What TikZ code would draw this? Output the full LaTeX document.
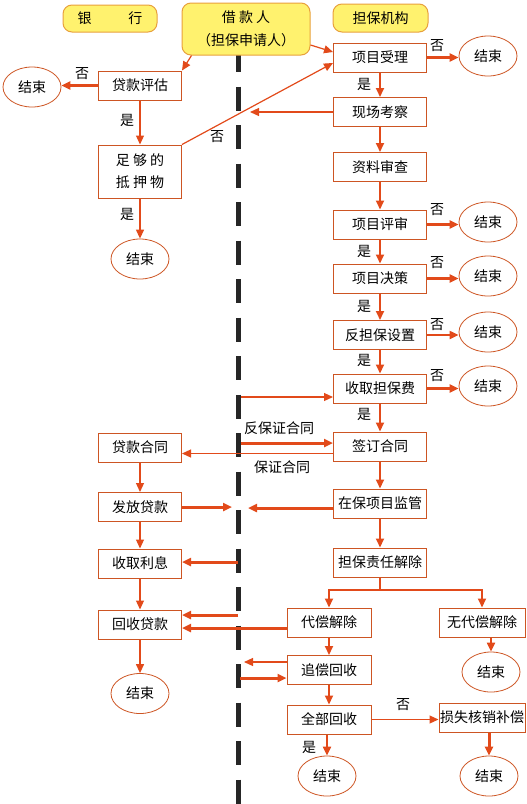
\documentclass[tikz,border=0pt]{standalone}
\usepackage{fontspec}
\setmainfont{Noto Sans CJK SC}
\usetikzlibrary{arrows.meta,shapes.geometric}

\definecolor{linered}{RGB}{226,74,26}
\definecolor{boxred}{RGB}{205,85,35}
\definecolor{hdyellow}{RGB}{255,242,110}
\definecolor{hdorange}{RGB}{232,160,60}

\tikzset{
  txt/.style={font=\fontsize{14}{16}\selectfont},
  box/.style={txt, draw=boxred, line width=1pt, minimum width=93pt, minimum height=29pt, inner sep=0pt},
  lbox/.style={box, minimum width=83pt},
  head/.style={txt, draw=hdorange, fill=hdyellow, rounded corners=9pt, line width=1pt, inner sep=0pt},
  stop/.style={txt, ellipse, draw=boxred, line width=0.8pt, minimum width=58pt, minimum height=40pt, inner sep=0pt},
  arr/.style={draw=linered, line width=1.2pt, -{Triangle[length=9pt,width=8pt]}},
  marr/.style={arr, line width=2pt},
  tarr/.style={arr, line width=3pt},
  lab/.style={txt, inner sep=0pt}
}

\begin{document}
\begin{tikzpicture}[x=1pt,y=-1pt]
    \useasboundingbox (0,0) rectangle (527,804);

    % 中间虚线
    \draw[line width=5pt, black!85, dash pattern=on 24pt off 14.5pt] (238,48) -- (238,804);

    % 表头
    \node[head, minimum width=94pt, minimum height=27pt] (bank) at (110,18.5) {银\hspace{37pt}行};
    \node[head, minimum width=128pt, minimum height=52pt, align=center, font=\fontsize{14}{23}\selectfont] (borrower) at (246,29) {借\ 款\ 人\\（担保申请人）};
    \node[head, minimum width=95pt, minimum height=28pt] (guarantor) at (380.5,18) {担保机构};

    % 担保机构一列
    \node[box] (accept) at (380,57.5) {项目受理};
    \node[box] (survey) at (380,112) {现场考察};
    \node[box] (check) at (380,167) {资料审查};
    \node[box] (review) at (380,224.5) {项目评审};
    \node[box] (decide) at (380,278.5) {项目决策};
    \node[box] (counter) at (380,335) {反担保设置};
    \node[box] (fee) at (380,388.5) {收取担保费};
    \node[box] (sign) at (380,446.5) {签订合同};
    \node[box] (monitor) at (380,503.5) {在保项目监管};
    \node[box] (release) at (380,562.5) {担保责任解除};
    \node[box, minimum width=84pt] (compensate) at (329,622.5) {代偿解除};
    \node[box, minimum width=86pt] (nocomp) at (482,622.5) {无代偿解除};
    \node[box, minimum width=84pt] (recover) at (329,670) {追偿回收};
    \node[box, minimum width=84pt] (fullrec) at (329,719.5) {全部回收};
    \node[box, minimum width=86pt] (writeoff) at (482,717.5) {损失核销补偿};

    \node[stop] (end1) at (488,56) {结束};
    \node[stop] (end2) at (488,222) {结束};
    \node[stop] (end3) at (488,276) {结束};
    \node[stop] (end4) at (488,332) {结束};
    \node[stop] (end5) at (488,386) {结束};
    \node[stop] (end6) at (491,672) {结束};
    \node[stop] (end7) at (327,776) {结束};
    \node[stop] (end8) at (489,776) {结束};

    % 银行一列
    \node[lbox] (loaneval) at (140,85.5) {贷款评估};
    \node[lbox, minimum height=53pt, align=center, font=\fontsize{14}{22}\selectfont] (collateral) at (140,171.5) {足\ 够\ 的\\抵\ 押\ 物};
    \node[lbox] (loancon) at (140,447.5) {贷款合同};
    \node[lbox] (issue) at (140,507) {发放贷款};
    \node[lbox] (interest) at (140,563.5) {收取利息};
    \node[lbox] (reclaim) at (140,624.5) {回收贷款};

    \node[stop] (lend1) at (32,87) {结束};
    \node[stop] (lend2) at (140,259) {结束};
    \node[stop] (lend3) at (140,693.5) {结束};

    % 虚线处的端点
    \coordinate (vsurvey) at (250,112);
    \coordinate (vfee) at (241,397);
    \coordinate (vsign) at (241,443);
    \coordinate (vissue) at (232,507);
    \coordinate (vmon) at (248,508);
    \coordinate (vint) at (238,562);
    \coordinate (vrec) at (238,615);
    \coordinate (vrc1) at (244,662);
    \coordinate (vrc2) at (240,678);
    \coordinate (split) at (380,590);

    % 申请
    \draw[arr] ([xshift=10pt]borrower.south west) -- (loaneval.north east);
    \draw[arr] ([yshift=-16pt]borrower.east) -- ([yshift=5.5pt]accept.west);

    % 银行流程
    \draw[tarr] (loaneval.west) -- (loaneval.west -| lend1.east);
    \draw[arr] (loaneval) -- (collateral);
    \draw[arr] (collateral.north east) -- ([yshift=-5.5pt]accept.west);
    \draw[arr] (collateral) -- (lend2);
    \draw[arr] (loancon) -- (issue);
    \draw[arr] (issue) -- (interest);
    \draw[arr] (interest) -- (reclaim);
    \draw[arr] (reclaim) -- (lend3);

    % 担保机构流程
    \draw[marr] (accept) -- (survey);
    \draw[marr] (survey) -- (check);
    \draw[marr] (check) -- (review);
    \draw[marr] (review) -- (decide);
    \draw[marr] (decide) -- (counter);
    \draw[marr] (counter) -- (fee);
    \draw[marr] (fee) -- (sign);
    \draw[marr] (sign) -- (monitor);
    \draw[marr] (monitor) -- (release);
    \draw[line width=2pt, linered] (release) -- (split);
    \draw[marr] (split) -| (compensate.north);
    \draw[marr] (split) -| (nocomp.north);
    \draw[marr] (compensate) -- (recover);
    \draw[marr] (recover) -- (fullrec);
    \draw[marr] (end7.north |- fullrec.south) -- (end7.north);
    \draw[arr] (fullrec.east) -- (fullrec.east -| writeoff.west);
    \draw[tarr] (end8.north |- writeoff.south) -- (end8.north);
    \draw[marr] (end6.north |- nocomp.south) -- (end6.north);

    \draw[tarr] (accept.east) -- (accept.east -| end1.west);
    \draw[tarr] (review.east) -- (review.east -| end2.west);
    \draw[tarr] (decide.east) -- (decide.east -| end3.west);
    \draw[marr] (counter.east) -- (counter.east -| end4.west);
    \draw[tarr] (fee.east) -- (fee.east -| end5.west);

    % 与借款人之间
    \draw[arr] (survey) -- (vsurvey);
    \draw[arr] (vfee) -- (vfee -| fee.west);
    \draw[tarr] (vsign) -- (vsign -| sign.west);
    \draw[arr] ([yshift=-7pt]sign.west) -- ([yshift=-7pt]sign.west -| loancon.east);
    \draw[tarr] (issue) -- (vissue);
    \draw[tarr] (vmon -| monitor.west) -- (vmon);
    \draw[tarr] (vint) -- (vint -| interest.east);
    \draw[tarr] (vrec) -- (vrec -| reclaim.east);
    \draw[tarr] ([yshift=-5.5pt]compensate.west) -- ([yshift=-5.5pt]compensate.west -| reclaim.east);
    \draw[arr] (vrc1 -| recover.west) -- (vrc1);
    \draw[tarr] (vrc2) -- (vrc2 -| recover.west);

    % 是 / 否
    \node[lab] (n1) at (82,74) {否};
    \node[lab] (y1) at (127,120) {是};
    \node[lab] (n2) at (217,137) {否};
    \node[lab] (y2) at (127,214) {是};
    \node[lab] (n3) at (437,46) {否};
    \node[lab] (n4) at (437,210) {否};
    \node[lab] (n5) at (437,263) {否};
    \node[lab] (n6) at (437,325) {否};
    \node[lab] (n7) at (437,376) {否};
    \node[lab] (y3) at (364,84) {是};
    \node[lab] (y4) at (364,251) {是};
    \node[lab] (y5) at (364,306) {是};
    \node[lab] (y6) at (364,360) {是};
    \node[lab] (y7) at (364,414) {是};
    \node[lab] (n8) at (403,705) {否};
    \node[lab] (y8) at (309,747) {是};
    \node[lab] (counterlab) at (279,428) {反保证合同};
    \node[lab] (guarlab) at (282,467) {保证合同};
\end{tikzpicture}
\end{document}
